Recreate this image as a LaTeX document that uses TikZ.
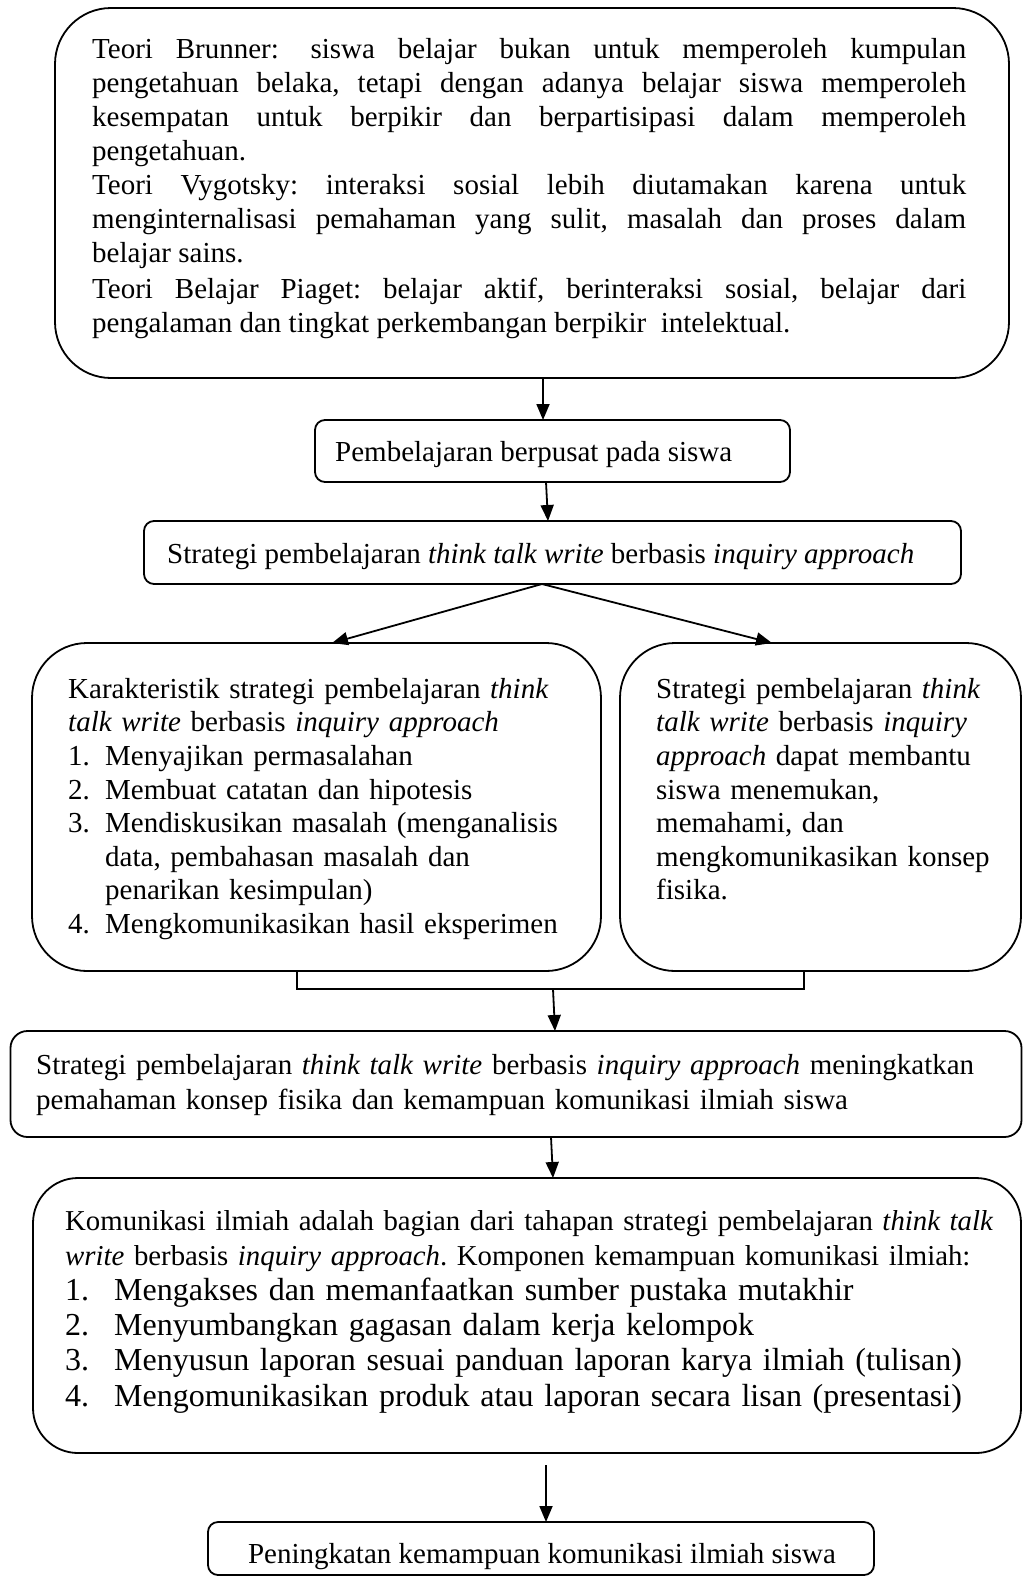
\documentclass[tikz,border=0pt]{standalone}
\usepackage{fontspec}
\setmainfont{Liberation Serif}
\usetikzlibrary{arrows.meta,calc}
\setlength\parindent{0pt}
\frenchspacing
\tikzset{
  box/.style={draw, line width=1.8pt, inner sep=0pt, outer sep=0pt},
  conn/.style={line width=1.8pt},
  arr/.style={line width=1.8pt, -{Triangle[length=16pt,width=13pt]}},
  txt/.style={anchor=north west, inner sep=0pt, align=left},
  jtxt/.style={anchor=north west, inner sep=0pt, align=justify},
}
\begin{document}
\begin{tikzpicture}[x=1pt,y=-1pt]
\useasboundingbox (0,0) rectangle (1023,1577);
% boxes
\node[box, rounded corners=56pt, minimum width=954pt, minimum height=370pt] (top) at (532,193) {};
\node[box, rounded corners=10pt, minimum width=475pt, minimum height=62pt] (b2) at (552.5,451) {};
\node[box, rounded corners=10pt, minimum width=817pt, minimum height=63pt] (b3) at (552.5,552.5) {};
\node[box, rounded corners=55pt, minimum width=569pt, minimum height=328pt] (lb) at (316.5,807) {};
\node[box, rounded corners=55pt, minimum width=401pt, minimum height=328pt] (rb) at (820.5,807) {};
\node[box, rounded corners=17pt, minimum width=1011pt, minimum height=106pt] (b4) at (516,1084) {};
\node[box, rounded corners=45pt, minimum width=988pt, minimum height=275pt] (b5) at (527,1315.5) {};
\node[box, rounded corners=10pt, minimum width=666pt, minimum height=53pt] (b6) at (541,1548.5) {};
% texts
\node[jtxt, text width=874pt, font=\fontsize{29}{34}\selectfont] (ttop) at (92,34.2) {\strut Teori Brunner:\hspace{0.3em} siswa belajar bukan untuk memperoleh kumpulan\linebreak pengetahuan belaka, tetapi dengan adanya belajar siswa memperoleh\linebreak kesempatan untuk berpikir dan berpartisipasi dalam memperoleh\linebreak pengetahuan.\par
Teori Vygotsky: interaksi sosial lebih diutamakan karena untuk\linebreak menginternalisasi pemahaman yang sulit, masalah dan proses dalam\linebreak belajar sains.\par\vspace{2pt}
Teori Belajar Piaget: belajar aktif, berinteraksi sosial, belajar dari\linebreak pengalaman dan tingkat perkembangan berpikir\ \ intelektual.};
\node[anchor=base west, inner sep=0pt, font=\fontsize{29}{34}\selectfont] (t2) at (335,461) {Pembelajaran berpusat pada siswa};
\node[anchor=base west, inner sep=0pt, font=\fontsize{29}{34}\selectfont] (t3) at (167,563) {Strategi pembelajaran \textit{think talk write} berbasis \textit{inquiry approach}};
\node[txt, text width=540pt, font=\fontsize{29}{33.6}\selectfont] (tl) at (68,674.5) {\strut Karakteristik strategi pembelajaran \textit{think}\\
\textit{talk write} berbasis \textit{inquiry approach}\\
\makebox[37pt][l]{1.}Menyajikan permasalahan\\
\makebox[37pt][l]{2.}Membuat catatan dan hipotesis\\
\makebox[37pt][l]{3.}Mendiskusikan masalah (menganalisis\\
\hspace*{37pt}data, pembahasan masalah dan\\
\hspace*{37pt}penarikan kesimpulan)\\
\makebox[37pt][l]{4.}Mengkomunikasikan hasil eksperimen};
\node[txt, text width=360pt, font=\fontsize{29}{33.6}\selectfont] (tr) at (656,674.5) {\strut Strategi pembelajaran \textit{think}\\
\textit{talk write} berbasis \textit{inquiry}\\
\textit{approach} dapat membantu\\
siswa menemukan,\\
memahami, dan\\
mengkomunikasikan konsep\\
fisika.};
\node[txt, text width=980pt, font=\fontsize{29}{35}\selectfont] (t4) at (36,1049.5) {\strut Strategi pembelajaran \textit{think talk write} berbasis \textit{inquiry approach} meningkatkan\\
pemahaman konsep fisika dan kemampuan komunikasi ilmiah siswa};
\node[txt, text width=950pt, font=\fontsize{28.8}{35}\selectfont] (t5) at (65,1205.5) {\strut Komunikasi ilmiah adalah bagian dari tahapan strategi pembelajaran \textit{think talk}\\
\textit{write} berbasis \textit{inquiry approach}. Komponen kemampuan komunikasi ilmiah:};
\node[txt, text width=950pt, font=\fontsize{32}{35.3}\selectfont] (t5b) at (65,1275.3) {\strut \makebox[49pt][l]{1.}Mengakses dan memanfaatkan sumber pustaka mutakhir\\
\makebox[49pt][l]{2.}Menyumbangkan gagasan dalam kerja kelompok\\
\makebox[49pt][l]{3.}Menyusun laporan sesuai panduan laporan karya ilmiah (tulisan)\\
\makebox[49pt][l]{4.}Mengomunikasikan produk atau laporan secara lisan (presentasi)};
\node[anchor=base, inner sep=0pt, font=\fontsize{29}{34}\selectfont] (t6) at (542,1563) {Peningkatan kemampuan komunikasi ilmiah siswa};
% connectors
\draw[arr] ([xshift=11pt]top.south) -- ([xshift=-9.5pt]b2.north);
\draw[arr] ([xshift=-6.5pt]b2.south) -- ([xshift=-4.5pt]b3.north);
\draw[arr] ([xshift=-10.5pt]b3.south) -- ([xshift=15.5pt]lb.north);
\draw[arr] ([xshift=-10.5pt]b3.south) -- ([xshift=-48.5pt]rb.north);
\coordinate (jl) at ($([xshift=-19.5pt]lb.south)+(0,18)$);
\coordinate (jr) at ($([xshift=-16.5pt]rb.south)+(0,18)$);
\coordinate (jm) at (553,989);
\draw[conn] ([xshift=-19.5pt]lb.south) -- (jl) -- (jr) -- ([xshift=-16.5pt]rb.south);
\draw[arr] (jm) -- ([xshift=39pt]b4.north);
\draw[arr] ([xshift=35pt]b4.south) -- ([xshift=26pt]b5.north);
\draw[arr, shorten <=12pt] ([xshift=19pt]b5.south) -- ([xshift=5pt]b6.north);
\end{tikzpicture}
\end{document}
